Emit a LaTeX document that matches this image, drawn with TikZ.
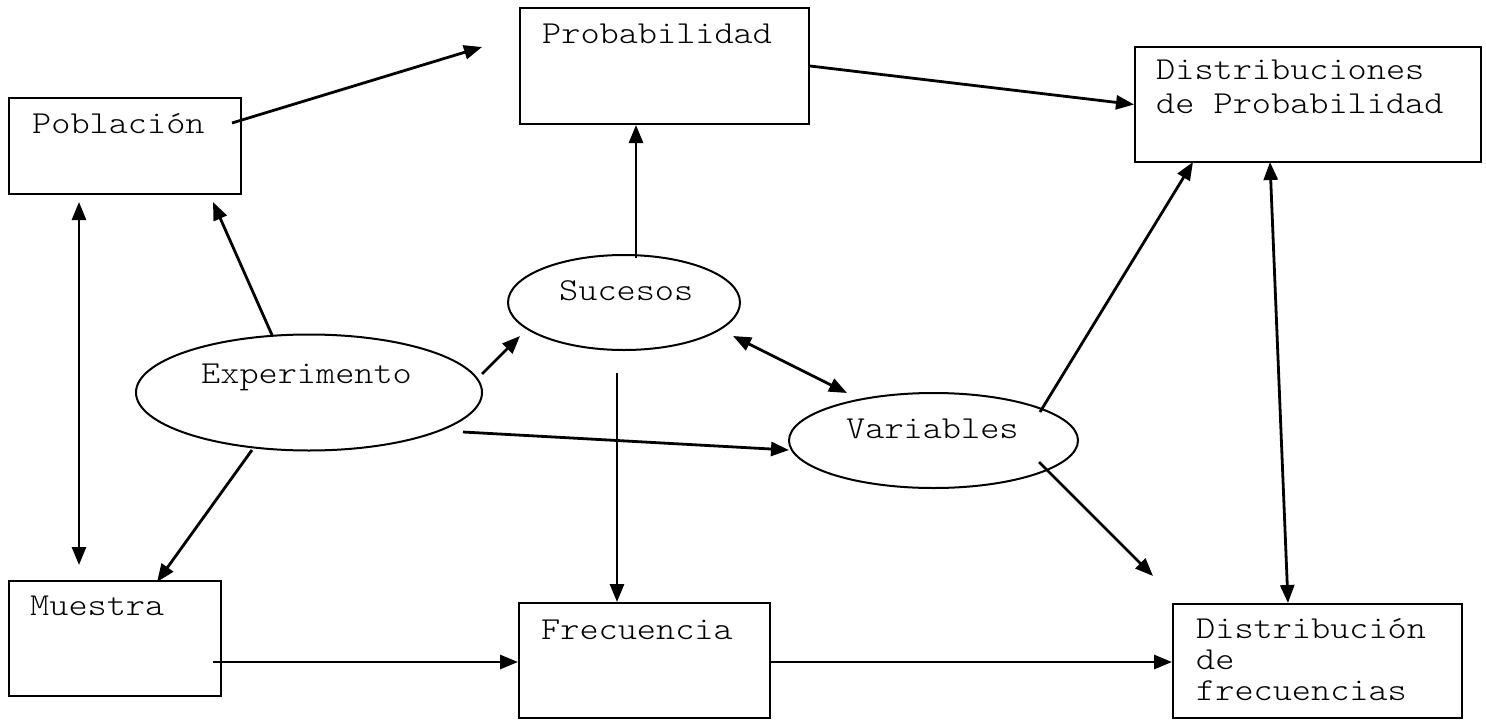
\documentclass[tikz,border=0pt]{standalone}
\usepackage{fontspec}
\setmonofont{Latin Modern Mono Light}[FakeStretch=1.14]
\usetikzlibrary{arrows.meta,shapes.geometric}
\begin{document}
\begin{tikzpicture}[x=1pt,y=-1pt,
  box/.style={draw,line width=2pt,rectangle,inner sep=0pt},
  oval/.style={draw,line width=2pt,ellipse,inner sep=0pt},
  txt/.style={anchor=base west,inner sep=0pt,font=\ttfamily\fontsize{32}{34}\selectfont,align=left},
  arr/.style={line width=2.8pt,-{Triangle[length=18pt,width=14pt]}},
  darr/.style={line width=2.8pt,{Triangle[length=18pt,width=14pt]}-{Triangle[length=18pt,width=14pt]}}]
\useasboundingbox (0,0) rectangle (1486,720);
% boxes
\node[box,minimum width=232pt,minimum height=96pt] (pob) at (125,146) {};
\node[box,minimum width=289pt,minimum height=116pt] (prob) at (664.5,66) {};
\node[box,minimum width=346pt,minimum height=115pt] (distp) at (1308,104.5) {};
\node[box,minimum width=212pt,minimum height=115pt] (mue) at (115,638.5) {};
\node[box,minimum width=251pt,minimum height=115pt] (fre) at (644.5,660.5) {};
\node[box,minimum width=289pt,minimum height=114pt] (distf) at (1317.5,661) {};
% ellipses
\node[oval,minimum width=346pt,minimum height=116pt] (exp) at (309,392.5) {};
\node[oval,minimum width=232pt,minimum height=95pt] (suc) at (624,302.5) {};
\node[oval,minimum width=289pt,minimum height=95pt] (var) at (933.5,440.5) {};
% texts
\node[txt] (tpob) at (32,133) {Población};
\node[txt] (tprob) at (542,43) {Probabilidad};
\node[txt] (tdistp) at (1156,113) {Distribuciones\\de Probabilidad};
\node[txt] (texp) at (201,383) {Experimento};
\node[txt] (tsuc) at (559,300) {Sucesos};
\node[txt] (tvar) at (846,438) {Variables};
\node[txt] (tmue) at (30,615) {Muestra};
\node[txt] (tfre) at (541,639) {Frecuencia};
\node[txt,font=\ttfamily\fontsize{32}{31}\selectfont] (tdistf) at (1196,700) {Distribución\\de\\frecuencias};
% connector end points
\coordinate (pobA) at (232,123);
\coordinate (probA) at (482,47);
\coordinate (pobB) at (79,202);
\coordinate (mueB) at (79,565);
\coordinate (expC) at (272,335);
\coordinate (pobC) at (213,202);
\coordinate (sucD) at (636,258);
\coordinate (expE) at (482,374);
\coordinate (sucE) at (520,336);
\coordinate (sucF) at (733,336);
\coordinate (varF) at (847,393);
\coordinate (expG) at (463,432);
\coordinate (varG) at (789,450);
\coordinate (sucH) at (617,373);
\coordinate (expI) at (252,450);
\coordinate (mueI) at (157,582);
\coordinate (varJ) at (1040,412);
\coordinate (distpJ) at (1193,162);
\coordinate (varK) at (1039,462);
\coordinate (distfK) at (1153,576);
\coordinate (distfL) at (1288,603);
\coordinate (distpL) at (1270,162);
\coordinate (mueM) at (213,662);
\coordinate (freM) at (770,662);
% connectors
\draw[arr] (pobA) -- (probA);
\draw[arr] (prob.east) -- (distp.west);
\draw[darr] (pobB) -- (mueB);
\draw[arr] (expC) -- (pobC);
\draw[arr] (sucD) -- (sucD |- prob.south);
\draw[arr] (expE) -- (sucE);
\draw[darr] (sucF) -- (varF);
\draw[arr] (expG) -- (varG);
\draw[arr] (sucH) -- (sucH |- fre.north);
\draw[arr] (expI) -- (mueI);
\draw[arr] (varJ) -- (distpJ);
\draw[arr] (varK) -- (distfK);
\draw[darr] (distfL) -- (distpL);
\draw[arr] (mueM) -- (mueM -| fre.west);
\draw[arr] (freM) -- (freM -| distf.west);
\end{tikzpicture}
\end{document}
